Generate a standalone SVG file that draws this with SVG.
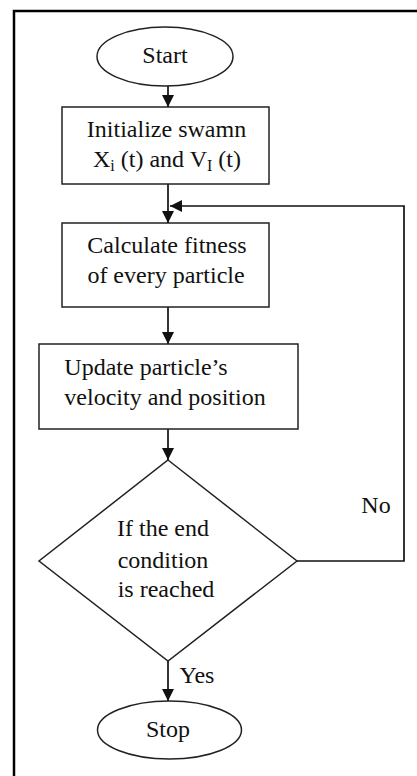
<svg xmlns="http://www.w3.org/2000/svg" width="417" height="776" viewBox="0 0 417 776">
<style>
.shape{fill:#fff;stroke:#222;stroke-width:1.5}
.conn{fill:none;stroke:#111;stroke-width:1.7}
text{font-family:"Liberation Serif","Times New Roman",serif;font-size:24px;fill:#111;text-anchor:middle}
</style>
<defs>
<marker id="ah" viewBox="0 0 12 12" refX="12" refY="6" markerWidth="12" markerHeight="12" markerUnits="userSpaceOnUse" orient="auto">
<path d="M0,0 L12,6 L0,12 Z" fill="#111"/>
</marker>
</defs>
<rect width="417" height="776" fill="#fff"/>
<path d="M14,776 V11 H417" fill="none" stroke="#000" stroke-width="2.5"/>
<g id="connectors">
<line class="conn" x1="168" y1="86" x2="168" y2="107" marker-end="url(#ah)"/>
<line class="conn" x1="168" y1="184" x2="168" y2="223" marker-end="url(#ah)"/>
<polyline class="conn" points="297,561 404,561 404,206 170,206" marker-end="url(#ah)"/>
<line class="conn" x1="168" y1="307" x2="168" y2="344" marker-end="url(#ah)"/>
<line class="conn" x1="168" y1="429" x2="168" y2="460" marker-end="url(#ah)"/>
<line class="conn" x1="168" y1="661" x2="168" y2="701" marker-end="url(#ah)"/>
<text x="376" y="513">No</text>
<text x="197" y="683">Yes</text>
</g>
<g id="start">
<ellipse class="shape" cx="165" cy="56.5" rx="68" ry="29.5"/>
<text x="165" y="63">Start</text>
</g>
<g id="init">
<rect class="shape" x="62" y="107" width="207" height="77"/>
<text x="166.5" y="137">Initialize swamn</text>
<text x="167" y="167">X<tspan font-size="16" dy="4">i</tspan><tspan dy="-4"> (t) and V</tspan><tspan font-size="16" dy="4">I</tspan><tspan dy="-4"> (t)</tspan></text>
</g>
<g id="fitness">
<rect class="shape" x="62" y="223" width="207" height="84"/>
<text x="167" y="253">Calculate fitness</text>
<text x="166" y="283">of every particle</text>
</g>
<g id="update">
<rect class="shape" x="39" y="344" width="259" height="85"/>
<text x="146" y="375">Update particle’s</text>
<text x="165" y="405">velocity and position</text>
</g>
<g id="decision">
<polygon class="shape" points="168,460 297,561 168,661 39,561"/>
<text x="163" y="536">If the end</text>
<text x="163" y="568">condition</text>
<text x="166" y="597">is reached</text>
</g>
<g id="stop">
<ellipse class="shape" cx="169.5" cy="730" rx="72" ry="29"/>
<text x="168" y="737">Stop</text>
</g>
</svg>
